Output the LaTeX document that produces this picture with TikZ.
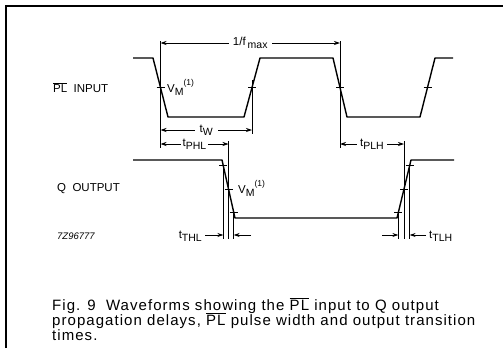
\documentclass[tikz,border=0pt]{standalone}
\usepackage{fontspec}
\setmainfont{Liberation Sans}
\newfontfamily\capfont{Liberation Sans}[LetterSpace=7]
\usetikzlibrary{arrows.meta}
\newcommand{\lsub}[1]{\raisebox{-0.5ex}{\fontsize{10.5}{11}\selectfont #1}}
\newcommand{\hsup}[1]{\raisebox{1.0ex}{\fontsize{8.5}{9}\selectfont #1}}
\newcommand{\ovl}[1]{$\overline{\hbox{#1}}$}
\newcommand{\VMone}{V\lsub{M}\hsup{(1)}}
\begin{document}
\begin{tikzpicture}[x=1pt,y=-1pt,
  wave/.style={line width=1.4pt, line join=round},
  guide/.style={line width=0.8pt},
  tickmark/.style={line width=0.8pt},
  dim/.style={line width=0.8pt, {Stealth[length=6pt,width=4pt]}-{Stealth[length=6pt,width=4pt]}},
  dimr/.style={line width=0.8pt, -{Stealth[length=6pt,width=4pt]}},
  lbl/.style={font=\fontsize{11.5}{13}\selectfont, inner sep=0pt},
  dlbl/.style={font=\fontsize{11.5}{13}\selectfont, fill=white, inner sep=2pt},
  captext/.style={font=\capfont\fontsize{15}{16}\selectfont, inner sep=0pt, anchor=base west}]
\useasboundingbox (0,0) rectangle (503,348);
\fill[white] (0,0) rectangle (503,348);
% frame
\draw[line width=2pt] (6,348) -- (6,6) -- (503,6);

% input waveform
\draw[wave] (133,58) -- (153,58) -- (168,117) -- (244,117) -- (260,58) -- (333,58)
  -- (347,117) -- (420,117) -- (435,58) -- (453,58);
% crossing points of input
\coordinate (i1) at (160.5,87.5);
\coordinate (i2) at (252,87.5);
\coordinate (i3) at (340,87.5);
\coordinate (i4) at (427.5,87.5);
\foreach \p in {i1,i2,i3,i4} \draw[tickmark] ([xshift=-4pt]\p) -- ([xshift=4pt]\p);

% output waveform
\draw[wave] (133,160) -- (222,160) -- (235,218) -- (397,218) -- (411,160) -- (454,160);
\coordinate (f10) at (223.3,165.8);
\coordinate (f50) at (228.5,189);
\coordinate (f90) at (233.7,212.2);
\coordinate (r10) at (398.4,212.2);
\coordinate (r50) at (404,189);
\coordinate (r90) at (409.6,165.8);
\foreach \p in {f10,f50,f90,r10,r50,r90} \draw[tickmark] ([xshift=-4pt]\p) -- ([xshift=4pt]\p);

% guide lines
\coordinate (g1t) at (160.5,41);  \coordinate (g1b) at (160.5,148);
\coordinate (g2t) at (252,80);    \coordinate (g2b) at (252,134);
\coordinate (g3t) at (340,41);    \coordinate (g3b) at (340,148);
\draw[guide] (g1t) -- (g1b);
\draw[guide] (g2t) -- (g2b);
\draw[guide] (g3t) -- (g3b);
\coordinate (g4t) at (228.5,141); \coordinate (g4b) at (228.5,239);
\coordinate (g5t) at (404,141);   \coordinate (g5b) at (404,239);
\coordinate (f10b) at (223.3,239);
\coordinate (f90b) at (233.7,239);
\coordinate (r10b) at (398.4,239);
\coordinate (r90b) at (409.6,239);
\draw[guide] (g4t) -- (g4b);
\draw[guide] (g5t) -- (g5b);
\draw[guide] (f10) -- (f10b);
\draw[guide] (f90) -- (f90b);
\draw[guide] (r10) -- (r10b);
\draw[guide] (r90) -- (r90b);

% dimension arrows
\coordinate (fa) at (160.5,43);  \coordinate (fb) at (340,43);
\draw[dim] (fa) -- node[dlbl, inner sep=4pt] {1/f\,\lsub{max}} (fb);
\coordinate (wa) at (160.5,130); \coordinate (wb) at (252,130);
\draw[dim] (wa) -- node[dlbl, inner sep=5pt] {t\lsub{W}} (wb);
\coordinate (pa) at (160.5,144); \coordinate (pb) at (228.5,144);
\draw[dim] (pa) -- node[dlbl] {t\lsub{PHL}} (pb);
\coordinate (qa) at (340,144);   \coordinate (qb) at (404,144);
\draw[dim] (qa) -- node[dlbl, inner sep=3pt] {t\lsub{PLH}} (qb);

% transition time arrows
\coordinate (t1s) at (205,235); \coordinate (t1e) at (223.3,235);
\coordinate (t2s) at (251,235); \coordinate (t2e) at (233.7,235);
\coordinate (t3s) at (382,235); \coordinate (t3e) at (398.4,235);
\coordinate (t4s) at (426,235); \coordinate (t4e) at (409.6,235);
\draw[dimr] (t1s) -- (t1e);
\draw[dimr] (t2s) -- (t2e);
\draw[dimr] (t3s) -- (t3e);
\draw[dimr] (t4s) -- (t4e);
\node[lbl, anchor=east] (thl) at (202,236) {t\lsub{THL}};
\node[lbl, anchor=west] (tlh) at (429,236) {t\lsub{TLH}};

% labels
\node[lbl, anchor=west] (plin) at (53,87.5) {\ovl{PL}\ \ INPUT};
\node[lbl, anchor=west] (qout) at (57,189) {Q\ \ OUTPUT};
\node[lbl, anchor=base west] (vm1) at (167,92) {\VMone};
\node[lbl, anchor=base west] (vm2) at (238,193) {\VMone};
\node[inner sep=0pt, anchor=base west, font=\fontsize{9.5}{10}\selectfont\itshape] (code) at (57,239) {7Z96777};

% caption
\node[captext] (c1) at (52,310) {Fig. 9\ \ Waveforms showing the \ovl{PL} input to Q output};
\node[captext] (c2) at (52,325) {propagation delays, \ovl{PL} pulse width and output transition};
\node[captext] (c3) at (52,340) {times.};
\end{tikzpicture}
\end{document}
